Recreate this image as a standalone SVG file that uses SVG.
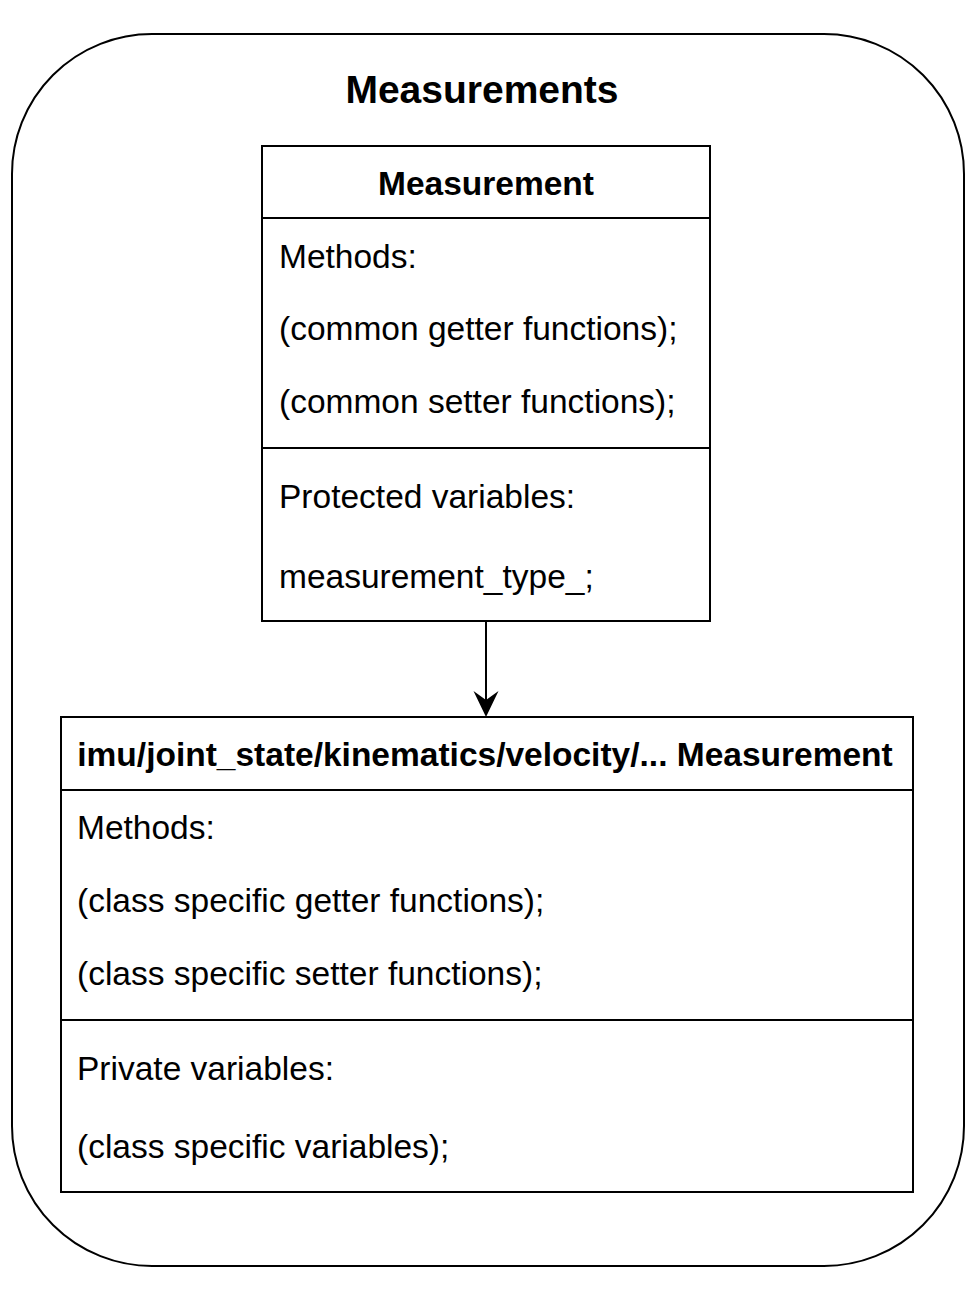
<svg xmlns="http://www.w3.org/2000/svg" width="976" height="1306" viewBox="0 0 976 1306">
<style>
.box{fill:#fff;stroke:#000;stroke-width:2}
.ln{stroke:#000;stroke-width:2;fill:none}
text{font-family:"Liberation Sans",Arial,Helvetica,sans-serif;fill:#000}
.hd{font-size:33.5px;font-weight:bold;text-anchor:middle}
.tt{font-size:39px;font-weight:bold;text-anchor:middle}
.bd{font-size:33.5px}
</style>
<g id="measurements">
<rect class="box" x="12" y="34" width="952" height="1232" rx="140" ry="140"/>
<text class="tt" x="482" y="103">Measurements</text>
</g>
<g id="connectors">
<line class="ln" x1="486" y1="622" x2="486" y2="700"/>
<path d="M486,717 L473.5,691 L486,700 L498.5,691 Z" fill="#000"/>
</g>
<g id="measurement">
<rect class="box" x="262" y="146" width="448" height="475"/>
<line class="ln" x1="262" y1="218" x2="710" y2="218"/>
<line class="ln" x1="262" y1="448" x2="710" y2="448"/>
<text class="hd" x="486" y="195">Measurement</text>
<text class="bd" x="279" y="268">Methods:</text>
<text class="bd" x="279" y="340">(common getter functions);</text>
<text class="bd" x="279" y="413">(common setter functions);</text>
<text class="bd" x="279" y="508">Protected variables:</text>
<text class="bd" x="279" y="588">measurement_type_;</text>
</g>
<g id="specific-measurement">
<rect class="box" x="61" y="717" width="852" height="475"/>
<line class="ln" x1="61" y1="790" x2="913" y2="790"/>
<line class="ln" x1="61" y1="1020" x2="913" y2="1020"/>
<text class="hd" x="485" y="766">imu/joint_state/kinematics/velocity/... Measurement</text>
<text class="bd" x="77" y="839">Methods:</text>
<text class="bd" x="77" y="912">(class specific getter functions);</text>
<text class="bd" x="77" y="985">(class specific setter functions);</text>
<text class="bd" x="77" y="1080">Private variables:</text>
<text class="bd" x="77" y="1158">(class specific variables);</text>
</g>
</svg>
